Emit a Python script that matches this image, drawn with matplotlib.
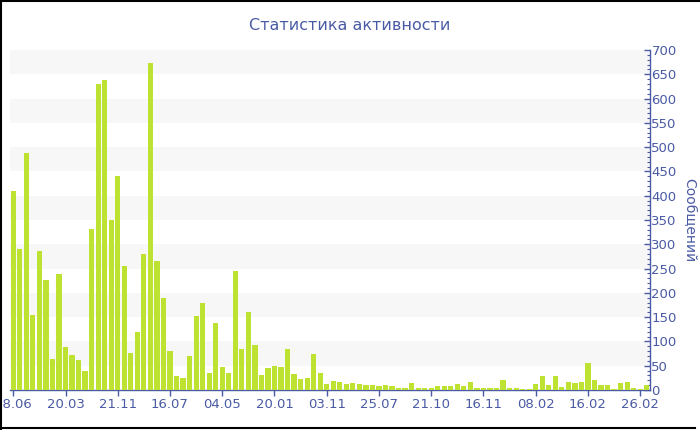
import matplotlib
matplotlib.use('Agg')
import matplotlib.pyplot as plt
from matplotlib.lines import Line2D

title = 'Статистика активности'
ylabel = 'Сообщений'

messages = [
    410, 290, 488, 154, 286, 226, 63, 238, 88, 73,
    62, 39, 331, 630, 638, 351, 441, 256, 76, 120,
    281, 673, 266, 190, 80, 29, 25, 70, 153, 180,
    34, 138, 47, 36, 246, 84, 160, 93, 31, 45,
    50, 48, 84, 32, 22, 24, 75, 34, 12, 19,
    16, 13, 14, 12, 10, 10, 8, 11, 8, 5,
    4, 15, 4, 4, 5, 8, 8, 8, 12, 8,
    17, 4, 4, 4, 4, 21, 4, 4, 3, 3,
    12, 29, 10, 29, 7, 16, 14, 16, 56, 20,
    10, 10, 3, 14, 16, 5, 3, 10,
]
tick_labels = ['28.06', '20.03', '21.11', '16.07', '04.05', '20.01', '03.11',
               '25.07', '21.10', '16.11', '08.02', '16.02', '26.02']
tick_step = 8

text_color = '#4a5aa4'
bar_color = '#bde232'
band_color = '#f7f7f7'

fig = plt.figure(figsize=(7, 4.3), dpi=100)
ax = fig.add_axes([10 / 700, 40 / 430, 640 / 700, 340 / 430])

x = list(range(len(messages)))
ax.set_xlim(-0.5, len(messages) - 0.5)
ax.set_ylim(0, 700)

# alternating horizontal bands
for lo in range(50, 700, 100):
    ax.axhspan(lo, lo + 50, color=band_color, zorder=0, lw=0)

ax.bar(x, messages, width=0.8, color=bar_color, linewidth=0, zorder=2)

ax.yaxis.tick_right()
ax.yaxis.set_label_position('right')
ax.set_yticks(range(0, 701, 50))
ax.set_yticks(range(0, 701, 10), minor=True)
ax.tick_params(axis='y', which='major', direction='in', length=4, width=1,
               colors=text_color, labelsize=9.5, pad=1)
ax.tick_params(axis='y', which='minor', direction='in', length=2.5, width=0.8,
               colors=text_color)
ax.set_xticks(x[::tick_step])
ax.set_xticklabels(tick_labels)
ax.tick_params(axis='x', direction='out', length=4, width=1,
               colors=text_color, labelsize=9.5, pad=2)

for side in ('top', 'left'):
    ax.spines[side].set_visible(False)
for side in ('right', 'bottom'):
    ax.spines[side].set_color(text_color)
    ax.spines[side].set_linewidth(1.0)
    ax.spines[side].set_zorder(1)

ax.set_ylabel(ylabel, rotation=270, color=text_color, fontsize=10, labelpad=14)
fig.text(350 / 700, 1 - 25 / 430, title, ha='center', va='center',
         color=text_color, fontsize=11.5)

# black frame on the left, top and bottom of the image
for xs, ys in (([0.001, 0.001], [0, 1]), ([0, 1], [0.998, 0.998]),
               ([0, 0.993], [0.004, 0.004])):
    fig.add_artist(Line2D(xs, ys, color='black', lw=1.5, transform=fig.transFigure))

fig.savefig('out.png', dpi=100)
